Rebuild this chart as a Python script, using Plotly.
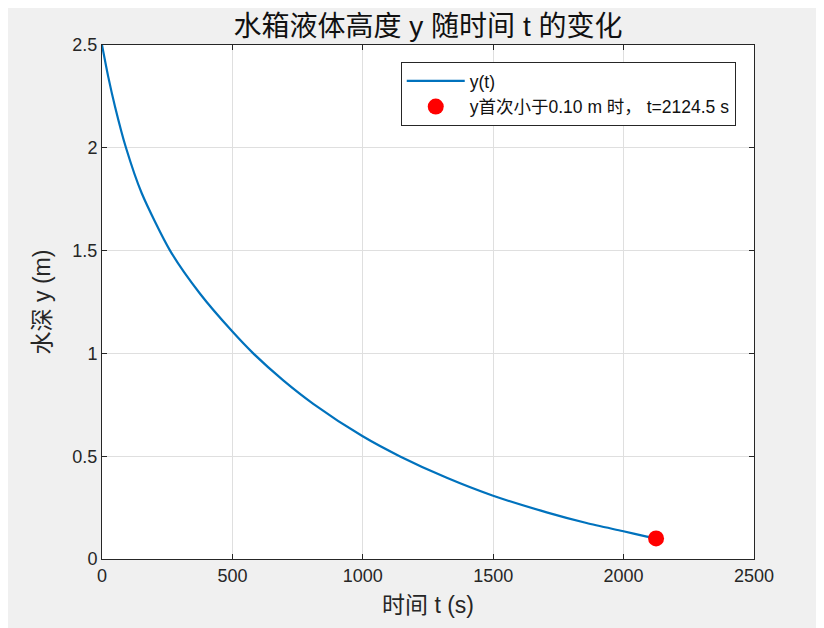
import plotly.graph_objects as go

# values
t_vals = [0, 24, 50, 92, 152, 261, 376, 500, 580, 695, 810, 998, 1143,
          1322, 1497, 1705, 1858, 1995, 2089, 2124.5]
y_vals = [2.5, 2.345, 2.2, 2.0, 1.78, 1.5, 1.29, 1.106, 1.0, 0.869,
          0.755, 0.598, 0.499, 0.395, 0.309, 0.227, 0.175, 0.136, 0.109, 0.10]

t_hit = [2124.5]
y_hit = [0.10]

x_ticks = [0, 500, 1000, 1500, 2000, 2500]
y_ticks = [0, 0.5, 1, 1.5, 2, 2.5]

FONT = "Liberation Sans, Arial, Noto Sans CJK SC"
AX = "#262626"

fig = go.Figure()
fig.add_trace(go.Scatter(x=t_vals, y=y_vals, mode="lines", name="y(t)",
                         line=dict(color="#0072BD", width=2.2, shape="spline",
                                   smoothing=0.7)))
fig.add_trace(go.Scatter(x=t_hit, y=y_hit, mode="markers",
                         name="y首次小于0.10 m 时， t=2124.5 s",
                         marker=dict(color="#ff0000", size=16)))

axis_common = dict(showline=True, linecolor=AX, linewidth=1, mirror="allticks",
                   ticks="inside", ticklen=5, tickcolor=AX, showgrid=True,
                   gridcolor="#dfdfdf", gridwidth=1, zeroline=False,
                   tickfont=dict(family=FONT, size=18, color=AX))

fig.update_layout(
    width=824, height=628,
    paper_bgcolor="#f0f0f0", plot_bgcolor="white",
    margin=dict(l=94, r=78, t=37, b=77),
    title=dict(text="水箱液体高度 y 随时间 t 的变化", x=0.5, xref="paper",
               y=0.971, yanchor="middle",
               font=dict(family=FONT, size=28, color="#111111")),
    xaxis=dict(range=[0, 2500], tickvals=x_ticks,
               title=dict(text="时间 t (s)", standoff=12,
                          font=dict(family=FONT, size=23, color=AX)),
               **axis_common),
    yaxis=dict(range=[0, 2.5], tickvals=y_ticks,
               title=dict(text="水深 y (m)", standoff=15,
                          font=dict(family=FONT, size=23, color=AX)),
               **axis_common),
    legend=dict(x=0.972, y=0.967, xanchor="right", yanchor="top",
                bgcolor="white", bordercolor="#262626", borderwidth=1,
                itemwidth=58,
                font=dict(family=FONT, size=17.5, color="#111111")),
    showlegend=True,
)

fig.write_html("out.html")
